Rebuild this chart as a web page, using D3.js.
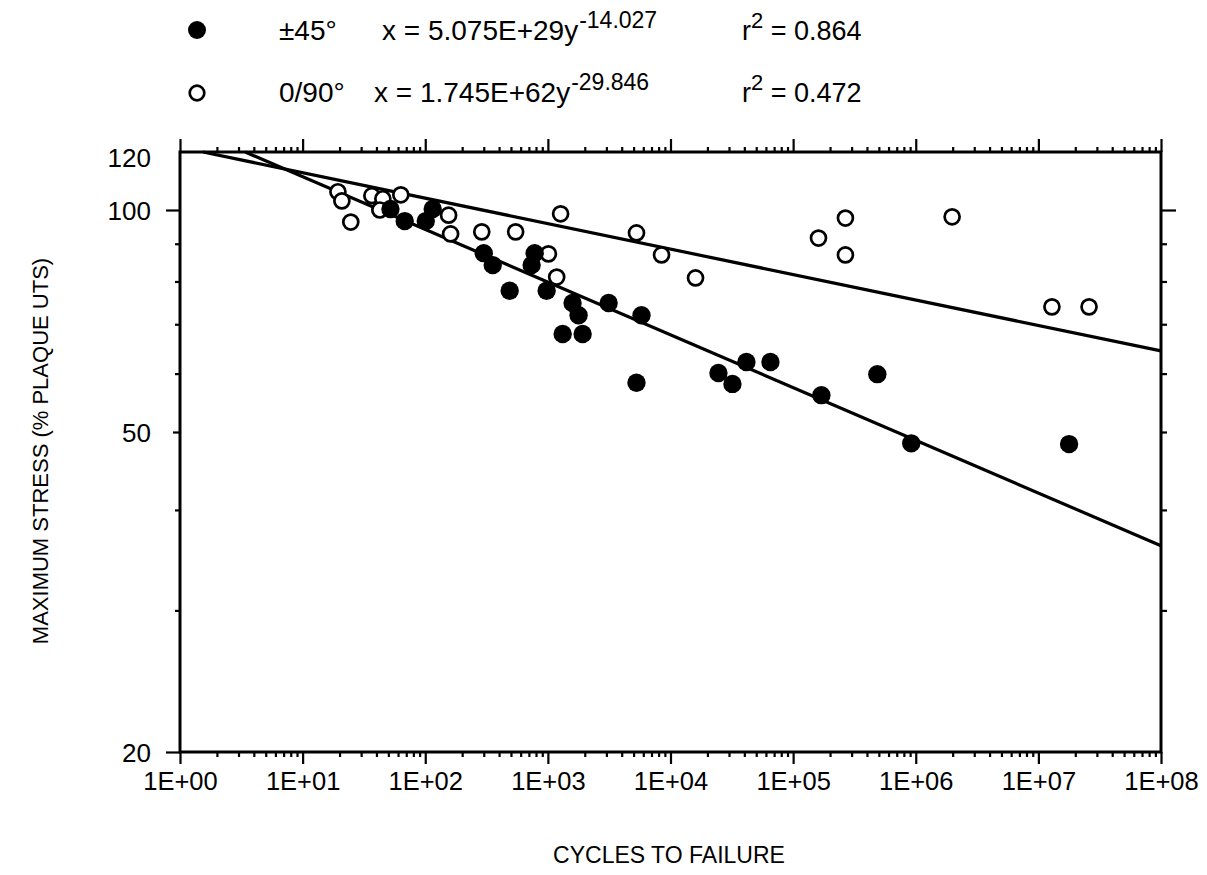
<!DOCTYPE html>
<html>
<head>
<meta charset="utf-8">
<script src="https://cdn.jsdelivr.net/npm/d3@7"></script>
<style>
  body { margin: 0; background: #fff; }
  svg { display: block; }
  text { font-family: "Liberation Sans", Arial, Helvetica, sans-serif; fill: #000; }
</style>
</head>
<body>
<svg id="chart" width="1207" height="875"></svg>
<script>
// ---------- data ----------
const xTickValues = [1, 1e1, 1e2, 1e3, 1e4, 1e5, 1e6, 1e7, 1e8];
const xTickLabels = ["1E+00", "1E+01", "1E+02", "1E+03", "1E+04", "1E+05", "1E+06", "1E+07", "1E+08"];
const yTickValues = [20, 50, 100, 120];
const yTickLabels = ["20", "50", "100", "120"];
const yMinorTicks = [30, 40, 60, 70, 80, 90];

// ±45° specimens (filled circles)
const ply45Cycles = [52, 68, 101, 115, 300, 355, 488, 780, 737, 977, 1590, 1780, 1320, 1920, 3130,
                     5800, 5280, 24600, 32000, 41600, 65300, 170000, 486000, 919000, 17800000];
const ply45Stress = [100.3, 96.6, 96.6, 100.3, 87.4, 84.2, 77.7, 87.4, 84.2, 77.7, 74.8, 72.0, 67.9, 67.9, 74.8,
                     72.0, 58.3, 60.1, 58.1, 62.2, 62.2, 56.1, 59.9, 48.4, 48.3];

// 0/90° specimens (open circles)
const ply090Cycles = [19.4, 20.9, 24.7, 36.7, 45.1, 42.6, 63.2, 155, 161, 289, 546, 1270, 1010, 1180,
                      5280, 8450, 16000, 161000, 267000, 267000, 1980000, 12900000, 25900000];
const ply090Stress = [105.9, 102.9, 96.3, 104.6, 103.6, 100.0, 104.9, 98.4, 92.8, 93.4, 93.4, 98.8, 87.2, 81.1,
                      93.1, 86.9, 80.9, 91.6, 97.5, 86.9, 97.9, 73.9, 73.9];

// power-law fit lines (end points)
const fit45Cycles = [3.4, 1e8];
const fit45Stress = [120, 36.1];
const fit090Cycles = [1.54, 1e8];
const fit090Stress = [120, 64.4];

// legend text
const legendNames = ["\u00B145\u00B0", "0/90\u00B0"];
const legendCoef = ["x = 5.075E+29y", "x = 1.745E+62y"];
const legendExp = ["-14.027", "-29.846"];
const legendR2 = ["0.864", "0.472"];

// ---------- drawing ----------
const svg = d3.select("#chart");
const L = 180, R = 1161, T = 152, B = 752;

const x = d3.scaleLog().domain([1, 1e8]).range([L, R]);
const y = d3.scaleLog().domain([20, 50, 100, 120]).range([B, 432, 210, T]);

const minorX = [];
for (let d = 0; d < 8; d++) for (let k = 2; k <= 9; k++) minorX.push(k * Math.pow(10, d));

function styleAxis(g) {
  g.select(".domain").remove();
  g.selectAll(".tick line").attr("stroke", "#000").attr("stroke-width", 2.2);
}

// bottom ticks
svg.append("g").attr("transform", `translate(0,${B})`)
  .call(d3.axisBottom(x).tickValues(xTickValues).tickSize(12).tickFormat(""))
  .call(styleAxis);
svg.append("g").attr("transform", `translate(0,${B})`)
  .call(d3.axisBottom(x).tickValues(minorX).tickSize(5).tickFormat(""))
  .call(styleAxis);
// bottom labels
svg.append("g").attr("transform", `translate(0,${B})`)
  .call(d3.axisBottom(x).tickValues(xTickValues).tickSize(0).tickPadding(20)
        .tickFormat((d, i) => xTickLabels[i]))
  .call(g => { g.select(".domain").remove(); g.selectAll("text").attr("font-size", 25.5); });

// top ticks
svg.append("g").attr("transform", `translate(0,${T})`)
  .call(d3.axisTop(x).tickValues(xTickValues).tickSize(13).tickFormat(""))
  .call(styleAxis);
svg.append("g").attr("transform", `translate(0,${T})`)
  .call(d3.axisTop(x).tickValues(minorX).tickSize(5).tickFormat(""))
  .call(styleAxis);

// left ticks
svg.append("g").attr("transform", `translate(${L},0)`)
  .call(d3.axisLeft(y).tickValues([20, 100]).tickSize(14).tickFormat(""))
  .call(styleAxis);
svg.append("g").attr("transform", `translate(${L},0)`)
  .call(d3.axisLeft(y).tickValues([50]).tickSize(7).tickFormat(""))
  .call(styleAxis);
svg.append("g").attr("transform", `translate(${L},0)`)
  .call(d3.axisLeft(y).tickValues(yMinorTicks).tickSize(5).tickFormat(""))
  .call(styleAxis);
svg.append("g").attr("transform", `translate(${L},0)`)
  .call(d3.axisLeft(y).tickValues(yTickValues).tickSize(0).tickPadding(29)
        .tickFormat((d, i) => yTickLabels[i]))
  .call(g => {
    g.select(".domain").remove();
    g.selectAll("text").attr("font-size", 26).attr("dy", (d) => d === 120 ? "0.55em" : "0.36em");
  });

// right ticks
svg.append("g").attr("transform", `translate(${R},0)`)
  .call(d3.axisRight(y).tickValues([100]).tickSize(15).tickFormat(""))
  .call(styleAxis);
svg.append("g").attr("transform", `translate(${R},0)`)
  .call(d3.axisRight(y).tickValues([30, 40, 50, 60, 70, 80, 90]).tickSize(6).tickFormat(""))
  .call(styleAxis);

// frame
svg.append("rect").attr("x", L).attr("y", T).attr("width", R - L).attr("height", B - T)
  .attr("fill", "none").attr("stroke", "#000").attr("stroke-width", 3);

// fit lines
const line = d3.line().x(d => x(d[0])).y(d => y(d[1]));
svg.append("path").datum(fit45Cycles.map((c, i) => [c, fit45Stress[i]]))
  .attr("d", line).attr("fill", "none").attr("stroke", "#000").attr("stroke-width", 3.2);
svg.append("path").datum(fit090Cycles.map((c, i) => [c, fit090Stress[i]]))
  .attr("d", line).attr("fill", "none").attr("stroke", "#000").attr("stroke-width", 3.2);

// points
svg.append("g").selectAll("circle").data(ply090Cycles.map((c, i) => [c, ply090Stress[i]]))
  .join("circle").attr("cx", d => x(d[0])).attr("cy", d => y(d[1])).attr("r", 7.5)
  .attr("fill", "#fff").attr("stroke", "#000").attr("stroke-width", 2.7);
svg.append("g").selectAll("circle").data(ply45Cycles.map((c, i) => [c, ply45Stress[i]]))
  .join("circle").attr("cx", d => x(d[0])).attr("cy", d => y(d[1])).attr("r", 9.2)
  .attr("fill", "#000");

// axis titles
svg.append("text").attr("x", 669).attr("y", 863).attr("text-anchor", "middle")
  .attr("font-size", 23).text("CYCLES TO FAILURE");
svg.append("text").attr("transform", "translate(48,451) rotate(-90)").attr("text-anchor", "middle")
  .attr("font-size", 22).text("MAXIMUM STRESS (% PLAQUE UTS)");

// legend
const rowsY = [40, 102];
const markY = [30, 93];
svg.append("circle").attr("cx", 197).attr("cy", markY[0]).attr("r", 9).attr("fill", "#000");
svg.append("circle").attr("cx", 197).attr("cy", markY[1]).attr("r", 7.3).attr("fill", "#fff")
  .attr("stroke", "#000").attr("stroke-width", 2.7);
const coefX = [382, 374];
legendNames.forEach((name, i) => {
  svg.append("text").attr("x", 279).attr("y", rowsY[i]).attr("font-size", 28).text(name);
  const t = svg.append("text").attr("x", coefX[i]).attr("y", rowsY[i]).attr("font-size", 28);
  t.append("tspan").text(legendCoef[i]);
  t.append("tspan").attr("dx", 1).attr("dy", -12).attr("font-size", 23).text(legendExp[i]);
  const r = svg.append("text").attr("x", 742).attr("y", rowsY[i]).attr("font-size", 27);
  r.append("tspan").text("r");
  r.append("tspan").attr("dy", -12).attr("font-size", 22).text("2");
  r.append("tspan").attr("dy", 12).text(" = " + legendR2[i]);
});
</script>
</body>
</html>
